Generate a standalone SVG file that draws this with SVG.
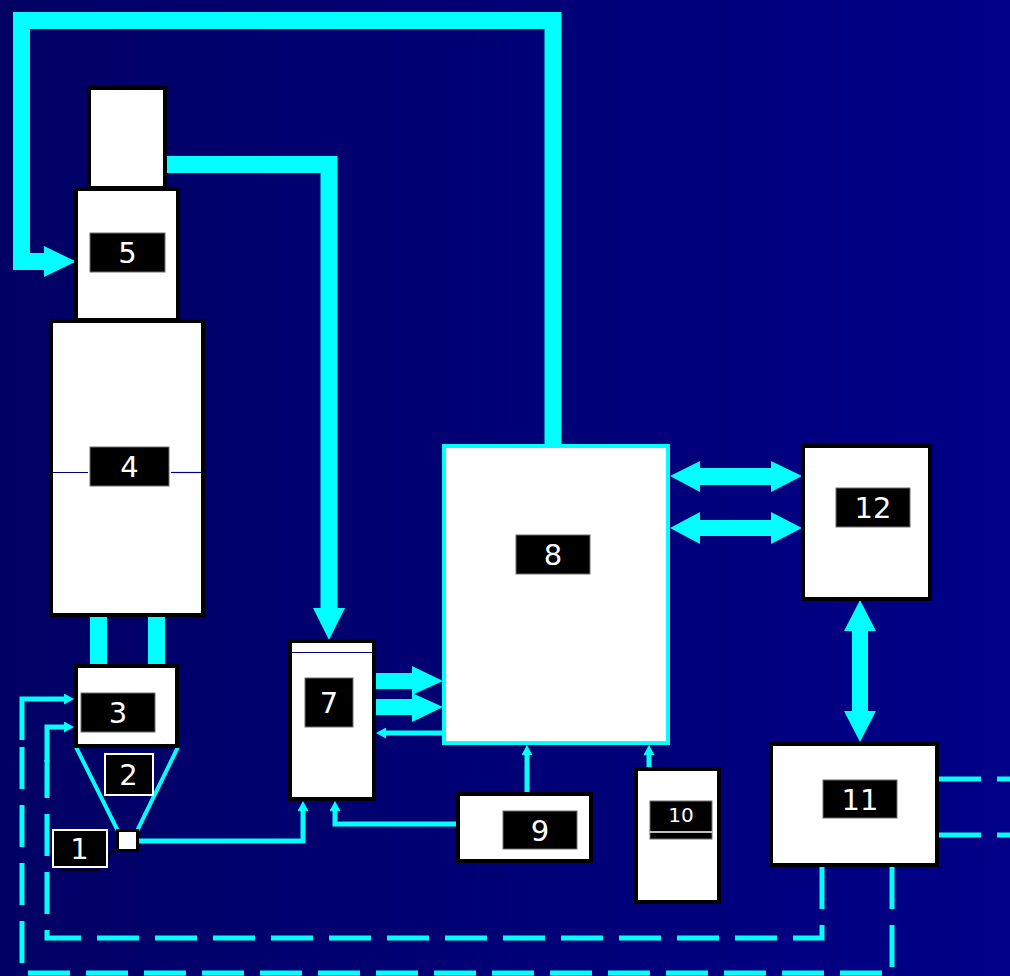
<svg xmlns="http://www.w3.org/2000/svg" width="1010" height="976" viewBox="0 0 1010 976">
<defs>
<linearGradient id="bg" x1="0" y1="0" x2="1" y2="0">
<stop offset="0" stop-color="#000064"/>
<stop offset="1" stop-color="#000088"/>
</linearGradient>
<marker id="ah" markerUnits="userSpaceOnUse" markerWidth="10" markerHeight="11" refX="0" refY="5.5" orient="auto">
<path d="M0,0 L10,5.5 L0,11 Z" fill="#00ffff"/>
</marker>
<style>
.node{fill:#ffffff;stroke:#000000;stroke-width:4}
.node8{fill:#ffffff;stroke:#00ffff;stroke-width:4}
.lbl{fill:#000000;stroke:#6e6e6e;stroke-width:1}
.lblw{fill:#000000;stroke:#ffffff;stroke-width:2}
.t{font-family:"DejaVu Sans","Liberation Sans",sans-serif;font-size:29px;fill:#ffffff;text-anchor:middle}
.ts{font-family:"DejaVu Sans","Liberation Sans",sans-serif;font-size:20px;fill:#ffffff;text-anchor:middle}
.thick{fill:none;stroke:#00ffff;stroke-width:17;stroke-linejoin:miter}
.thin{fill:none;stroke:#00ffff;stroke-width:5}
.dash{fill:none;stroke:#00ffff;stroke-width:5;stroke-dasharray:42 16}
.head{fill:#00ffff}
.navy{stroke:#000080;stroke-width:1.2}
</style>
</defs>
<rect x="0" y="0" width="1010" height="976" fill="url(#bg)"/>

<g id="connectors">
<path class="thick" d="M553,444 V20.5 H21.5 V261.5 H46"/>
<polygon class="head" points="44,246 76,261.5 44,277"/>
<path class="thick" d="M165,164.5 H329 V610"/>
<polygon class="head" points="313,608 345,608 329,640"/>
<rect class="head" x="90" y="615" width="17" height="51"/>
<rect class="head" x="148" y="615" width="17" height="51"/>
<line x1="76" y1="747" x2="118" y2="831" stroke="#00ffff" stroke-width="4"/>
<line x1="178" y1="747" x2="137" y2="831" stroke="#00ffff" stroke-width="4"/>
<path class="thin" d="M139,841 H303 V811" marker-end="url(#ah)"/>
<path class="thin" d="M457,824 H335 V811" marker-end="url(#ah)"/>
<path class="thin" d="M442,733 H386" marker-end="url(#ah)"/>
<path class="thin" d="M527,792 V755" marker-end="url(#ah)"/>
<path class="thin" d="M649,767 V755" marker-end="url(#ah)"/>
<polygon class="head" points="376,673 412,673 412,666 443,681 412,695 412,689 376,689"/>
<polygon class="head" points="376,699 412,699 412,693 443,707 412,722 412,715 376,715"/>
<polygon class="head" points="670,476 700,461 700,468 771,468 771,461 802,476 771,492 771,485 700,485 700,492"/>
<polygon class="head" points="670,528 700,512 700,520 771,520 771,512 802,528 771,544 771,536 700,536 700,544"/>
<polygon class="head" points="860,600 876,631 868,631 868,711 876,711 860,742 844,711 852,711 852,631 844,631"/>
<path class="dash" d="M822,867 V938 H47 V760"/>
<path class="thin" d="M47,762 V727 H64" marker-end="url(#ah)"/>
<path class="dash" d="M892,867 V973 H22 V738"/>
<path class="thin" d="M22,740 V699 H64" marker-end="url(#ah)"/>
<path class="dash" d="M939,779 H1010"/>
<path class="dash" d="M939,835 H1010"/>
<path d="M117,845 L98,870 H60" fill="none" stroke="#000000" stroke-width="2"/>
</g>

<g id="node-cap">
<rect class="node" x="89" y="88" width="76" height="100"/>
</g>
<g id="node-5">
<rect class="node" x="76" y="189" width="102" height="131"/>
<rect class="lbl" x="90" y="233" width="75" height="39"/>
<text class="t" x="127.5" y="263">5</text>
</g>
<g id="node-4">
<rect class="node" x="51" y="321" width="152" height="294"/>
<line class="navy" x1="53" y1="472.5" x2="88" y2="472.5"/>
<line class="navy" x1="171" y1="472.5" x2="201" y2="472.5"/>
<rect class="lbl" x="90" y="447" width="79" height="39"/>
<text class="t" x="129.5" y="477">4</text>
</g>
<g id="node-3">
<rect class="node" x="76" y="666" width="101" height="80"/>
<rect class="lbl" x="81" y="693" width="74" height="39"/>
<text class="t" x="118" y="723">3</text>
</g>
<g id="node-2">
<rect class="lblw" x="105" y="754" width="48" height="41"/>
<text class="t" x="128.5" y="785">2</text>
</g>
<g id="node-1">
<rect class="node" x="117.5" y="830.5" width="20" height="20" style="stroke-width:3"/>
<rect class="lblw" x="53" y="830" width="54" height="37"/>
<text class="t" x="79.5" y="859">1</text>
</g>
<g id="node-7">
<rect class="node" x="290" y="641" width="84" height="158"/>
<line class="navy" x1="292" y1="652.5" x2="372" y2="652.5"/>
<rect class="lbl" x="305" y="678" width="48" height="49"/>
<text class="t" x="329" y="713">7</text>
</g>
<g id="node-8">
<rect class="node8" x="444" y="446" width="224" height="297"/>
<rect class="lbl" x="516" y="535" width="74" height="39"/>
<text class="t" x="553" y="565">8</text>
</g>
<g id="node-9">
<rect class="node" x="458" y="794" width="133" height="67"/>
<rect class="lbl" x="503" y="811" width="74" height="38"/>
<text class="t" x="540" y="840.5">9</text>
</g>
<g id="node-10">
<rect class="node" x="636" y="769" width="83" height="133"/>
<rect class="lbl" x="650" y="801" width="62" height="38"/>
<line x1="650" y1="832" x2="712" y2="832" stroke="#ffffff" stroke-width="1.5"/>
<text class="ts" x="681" y="822">10</text>
</g>
<g id="node-11">
<rect class="node" x="771" y="744" width="166" height="121"/>
<rect class="lbl" x="823" y="780" width="74" height="38"/>
<text class="t" x="860" y="809.5">11</text>
</g>
<g id="node-12">
<rect class="node" x="803" y="446" width="127" height="153"/>
<rect class="lbl" x="836" y="488" width="74" height="39"/>
<text class="t" x="873" y="518">12</text>
</g>
</svg>
